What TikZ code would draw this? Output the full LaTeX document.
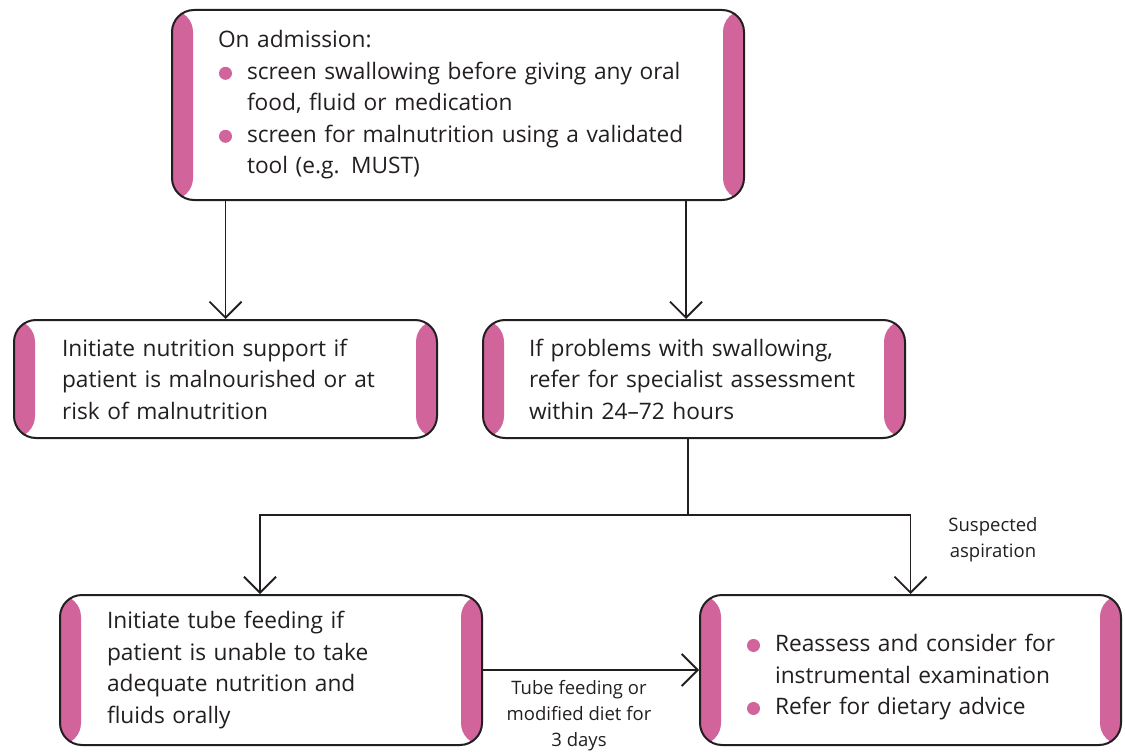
\documentclass[tikz,border=0pt]{standalone}
\usepackage{fontspec}
\setmainfont{Open Sans}
\usetikzlibrary{arrows.meta}

\definecolor{bandpink}{RGB}{208,100,155}
\definecolor{inkgray}{RGB}{35,31,32}

\newcommand{\pinkdot}{\tikz[baseline=-0.5ex]\fill[bandpink] (0,0) circle (6.5pt);}
\newcommand{\bulletline}[1]{\par\hangindent=29pt\hangafter=1\noindent\makebox[29pt][l]{\hspace{1pt}\pinkdot}#1\par}

\tikzset{
  box/.style={draw=inkgray, line width=2pt, rounded corners=22pt, fill=white,
    align=left, inner sep=0pt, font=\fontsize{22.7}{31.5}\selectfont, text=inkgray,
    path picture={
      \fill[bandpink] (path picture bounding box.south west) rectangle ([xshift=21pt]path picture bounding box.north west);
      \fill[bandpink] (path picture bounding box.south east) rectangle ([xshift=-21pt]path picture bounding box.north east);
    }},
  arr/.style={draw=inkgray, line width=1.8pt, -{Straight Barb[length=16pt,width=32pt,line width=1.8pt]}},
  link/.style={draw=inkgray, line width=1.8pt},
  note/.style={align=center, font=\fontsize{18.5}{26}\selectfont, text=inkgray}
}

\begin{document}
\begin{tikzpicture}[x=1pt,y=-1pt]
    \useasboundingbox (0,0) rectangle (1125,752);

    % boxes
    \node[box, minimum width=572pt, minimum height=190pt, text width=480pt] (admit) at (458,105)
        {On admission:
         \bulletline{screen swallowing before giving any oral\newline food, fluid or medication}
         \bulletline{screen for malnutrition using a validated\newline tool (e.g. MUST)}};
    \node[box, minimum width=423pt, minimum height=118pt, text width=327pt] (nutr) at (225.5,379)
        {Initiate nutrition support if\\patient is malnourished or at\\risk of malnutrition};
    \node[box, minimum width=422pt, minimum height=118pt, text width=330pt] (refer) at (694,379)
        {If problems with swallowing,\\refer for specialist assessment\\within 24--72 hours};
    \node[box, minimum width=422pt, minimum height=150pt, text width=328pt] (tube) at (271,670)
        {Initiate tube feeding if\\patient is unable to take\\adequate nutrition and\\fluids orally};
    \node[box, minimum width=421pt, minimum height=150pt, text width=329pt] (reassess) at (910.5,670)
        {\bulletline{Reassess and consider for\newline instrumental examination}
         \bulletline{Refer for dietary advice}};

    % connectors
    \draw[arr] (nutr.north |- admit.south) -- (nutr.north);
    \draw[arr] ([xshift=-8pt]refer.north |- admit.south) -- ([xshift=-8pt]refer.north);
    \coordinate (split) at (688,515);
    \draw[link] (refer.south -| split) -- (split);
    \draw[arr] (split) -| ([xshift=-11pt]tube.north);
    \draw[arr] (split) -| (reassess.north);
    \draw[arr] (tube.east) -- (reassess.west);

    % labels
    \node[note] (aspir) at (993,540) {Suspected\\aspiration};
    \node[note] (diet) at (579,716) {Tube feeding or\\modified diet for\\3 days};
\end{tikzpicture}
\end{document}
